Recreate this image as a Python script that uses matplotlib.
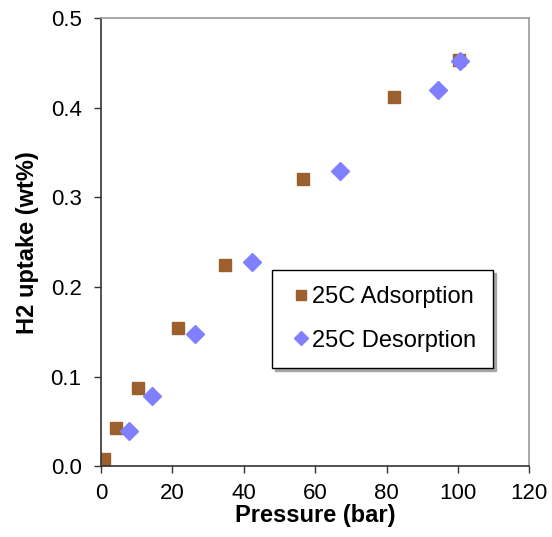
import matplotlib
matplotlib.use("Agg")
import matplotlib.pyplot as plt

plt.rcParams["font.family"] = ["Liberation Sans", "DejaVu Sans"]

# 25C adsorption / desorption isotherm points
ads_pressure = [0.8, 4.2, 10.3, 21.5, 34.7, 56.5, 82.2, 100.4]
ads_uptake = [0.008, 0.042, 0.087, 0.154, 0.224, 0.320, 0.412, 0.453]
des_pressure = [7.8, 14.3, 26.3, 42.2, 66.9, 94.5, 100.7]
des_uptake = [0.039, 0.078, 0.148, 0.228, 0.330, 0.420, 0.452]

fig = plt.figure(figsize=(5.52, 5.37), dpi=100)
ax = fig.add_axes([0.183, 0.132, 0.776, 0.834])

ax.plot(ads_pressure, ads_uptake, linestyle="none", marker="s", markersize=9,
        color="#9c5f2e", label="25C Adsorption")
ax.plot(des_pressure, des_uptake, linestyle="none", marker="D", markersize=9,
        color="#8080ff", label="25C Desorption")

ax.set_xlim(0, 120)
ax.set_ylim(0, 0.5)
ax.set_xticks(range(0, 121, 20))
ax.set_yticks([0.0, 0.1, 0.2, 0.3, 0.4, 0.5])
ax.set_yticklabels([f"{v:.1f}" for v in [0.0, 0.1, 0.2, 0.3, 0.4, 0.5]])
ax.tick_params(axis="both", direction="out", length=5, width=1, labelsize=16,
               color="#333333")
ax.tick_params(axis="y", pad=9)
ax.tick_params(axis="x", pad=7)

for side in ["left", "bottom"]:
    ax.spines[side].set_color("#333333")
    ax.spines[side].set_linewidth(1.2)
for side in ["top", "right"]:
    ax.spines[side].set_color("#999999")
    ax.spines[side].set_linewidth(1.2)

ax.set_xlabel("Pressure (bar)", fontsize=17, fontweight="bold", labelpad=0)
ax.set_ylabel("H2 uptake (wt%)", fontsize=17, fontweight="bold", labelpad=8)

leg = ax.legend(loc="upper left", bbox_to_anchor=(0.40, 0.438), fontsize=17,
                frameon=True, fancybox=False,
                shadow={"color": "0.65", "alpha": 1},
                handletextpad=0.0, handlelength=1.0, labelspacing=0.9,
                borderpad=0.7, markerscale=0.8, borderaxespad=0)
leg.get_frame().set_edgecolor("black")
leg.get_frame().set_linewidth(1.0)

fig.savefig("out.png", dpi=100)
